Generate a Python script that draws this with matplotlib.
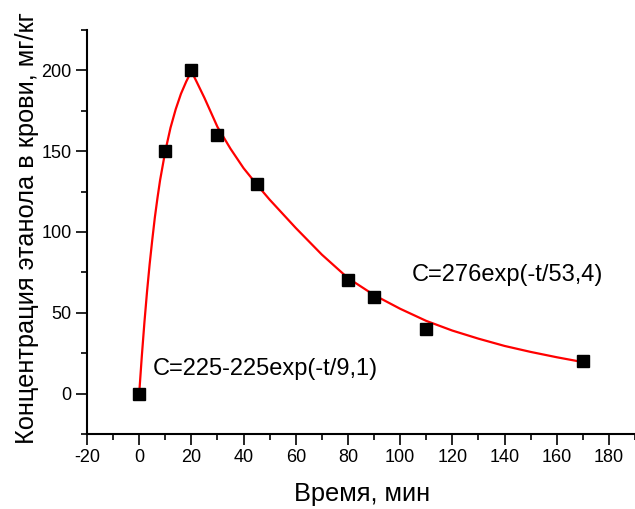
import matplotlib
matplotlib.use("Agg")
import matplotlib.pyplot as plt
from matplotlib.ticker import MultipleLocator

plt.rcParams['font.family'] = ['Liberation Sans', 'DejaVu Sans']
plt.rcParams['axes.unicode_minus'] = False

# Measured points
t_data = [0, 10, 20, 30, 45, 80, 90, 110, 170]
c_data = [0, 150, 200, 160, 130, 70, 60, 40, 20]

# Fitted curve
t_rise = [0, 1, 2, 3, 4, 5, 6, 7, 8, 9, 10, 12, 14, 16, 18, 20]
c_rise = [0, 23, 44, 63, 80, 95, 109, 121, 132, 141, 150, 164.5, 176, 185.5, 193, 199.5]
t_decay = [20, 22, 25, 30, 35, 40, 45, 50, 60, 70, 80, 90, 100, 110, 120, 130, 140, 150, 160, 170]
c_decay = [199.5, 193, 183, 165, 151.5, 139.5, 129.5, 120, 102.5, 86, 71.5, 61, 52.5, 45, 39, 34, 29.5, 25.8, 22.5, 19.5]

label_rise = "C=225-225exp(-t/9,1)"
label_decay = "C=276exp(-t/53,4)"
xlabel = "Время, мин"
ylabel = "Концентрация этанола в крови, мг/кг"

fig = plt.figure(figsize=(6.35, 5.09), dpi=100)
ax = fig.add_axes([87/635, 75/509, 1 - 87/635, (434-30)/509])

ax.plot(t_rise, c_rise, color='red', lw=1.6, zorder=2)
ax.plot(t_decay, c_decay, color='red', lw=1.6, zorder=2)
ax.plot(t_data, c_data, 's', color='black', markersize=8.3, zorder=3)

ax.set_xlim(-20, 190)
ax.set_ylim(-25, 225)
ax.xaxis.set_minor_locator(MultipleLocator(10))
ax.yaxis.set_minor_locator(MultipleLocator(25))
ax.set_xticks(range(-20, 181, 20))
ax.set_yticks(range(0, 201, 50))

for s in ['top', 'right']:
    ax.spines[s].set_visible(False)
for s in ['left', 'bottom']:
    ax.spines[s].set_linewidth(1.5)
ax.tick_params(which='major', direction='out', length=8, width=1.2, labelsize=13, pad=3)
ax.tick_params(which='minor', direction='out', length=4, width=1.2)

ax.text(5.2, 15.4, label_rise, fontsize=17, va='center', ha='left')
ax.text(104.6, 73.5, label_decay, fontsize=17, va='center', ha='left')

fig.text(362.5/635, 1 - 494/509, xlabel, fontsize=18.3, ha='center', va='center')
fig.text(27/635, 1 - 228.5/509, ylabel, fontsize=18.3, ha='center', va='center', rotation=90)

fig.savefig("out.png", dpi=100)
